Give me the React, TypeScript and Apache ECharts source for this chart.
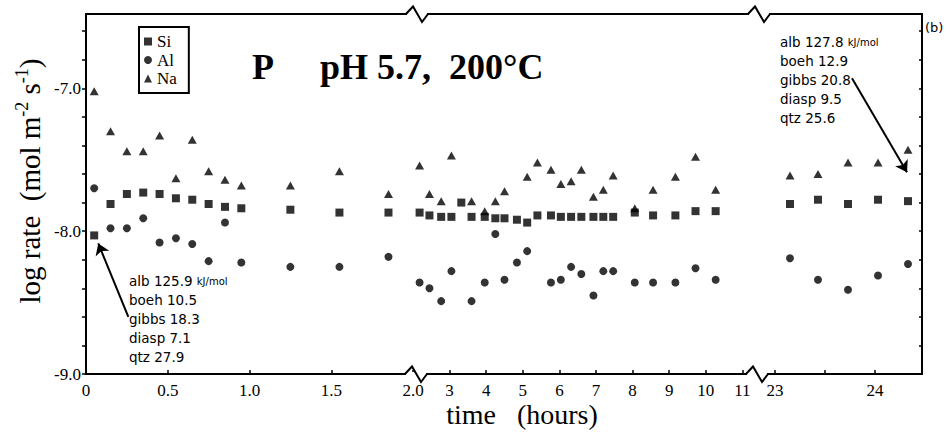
import React, { useEffect, useRef } from "react";
import * as echarts from "echarts";

// ---- data (time in hours, log rate in mol m-2 s-1) ----
const SEG1_T = [0.05, 0.15, 0.25, 0.35, 0.45, 0.55, 0.65, 0.75, 0.85, 0.95, 1.25, 1.55, 1.85];
const SEG1_SI = [-8.03, -7.81, -7.74, -7.73, -7.74, -7.77, -7.78, -7.81, -7.83, -7.84, -7.85, -7.87, -7.87];
const SEG1_AL = [-7.7, -7.98, -7.98, -7.91, -8.08, -8.05, -8.09, -8.21, -7.94, -8.22, -8.25, -8.25, -8.18];
const SEG1_NA = [-7.02, -7.3, -7.44, -7.44, -7.33, -7.63, -7.36, -7.58, -7.64, -7.68, -7.68, -7.58, -7.74];

const SEG2_T = [2.18, 2.45, 2.77, 3.05, 3.32, 3.6, 3.96, 4.25, 4.5, 4.84, 5.12, 5.4, 5.77, 6.04, 6.32, 6.6, 6.93, 7.2, 7.47, 8.06, 8.56, 9.17, 9.72, 10.27];
const SEG2_SI = [-7.87, -7.89, -7.9, -7.9, -7.8, -7.9, -7.9, -7.91, -7.91, -7.92, -7.94, -7.89, -7.89, -7.9, -7.9, -7.9, -7.9, -7.9, -7.9, -7.87, -7.89, -7.89, -7.86, -7.86];
const SEG2_AL = [-8.36, -8.4, -8.49, -8.28, null, -8.49, -8.36, -8.02, -8.34, -8.22, -8.14, null, -8.36, -8.34, -8.25, -8.3, -8.45, -8.28, -8.28, -8.36, -8.36, -8.36, -8.26, -8.34];
const SEG2_NA = [-7.54, -7.74, -7.79, -7.47, null, -7.79, -7.86, -7.79, -7.72, null, -7.62, -7.52, -7.57, -7.67, -7.65, -7.57, -7.76, -7.71, -7.61, -7.84, -7.71, -7.62, -7.48, -7.71];

const SEG3_T = [23.15, 23.43, 23.73, 24.03, 24.33];
const SEG3_SI = [-7.81, -7.78, -7.81, -7.78, -7.79];
const SEG3_AL = [-8.19, -8.34, -8.41, -8.31, -8.23];
const SEG3_NA = [-7.61, -7.6, -7.52, -7.52, -7.43];

// ---- axes ----
const Y_MIN = -9.0;
const Y_MAX = -6.48;
const Y_TICKS = [-9.0, -8.8, -8.6, -8.4, -8.2, -8.0, -7.8, -7.6, -7.4, -7.2, -7.0, -6.8, -6.6];
const Y_LABELS = [-9.0, -8.0, -7.0];

const X_RANGES = [
  [0, 2.0],
  [2, 11.4],
  [22.82, 24.47],
];
const X_LABELS = [
  [0, 0.5, 1.0, 1.5, 2.0],
  [3, 4, 5, 6, 7, 8, 9, 10, 11],
  [23, 24],
];
const X_TICKS = [
  [0, 0.5, 1.0, 1.5, 2.0],
  [3, 4, 5, 6, 7, 8, 9, 10, 11],
  [23, 23.5, 24],
];

// arrows (data coordinates): start, end (tip)
const ARROW_LEFT = [[0.259, -8.6], [0.075, -8.086]];
const ARROW_RIGHT = [[23.77, -6.93], [24.32, -7.587]];

const NOTE_LEFT = ["alb 125.9", "boeh 10.5", "gibbs 18.3", "diasp 7.1", "qtz 27.9"];
const NOTE_RIGHT = ["alb 127.8", "boeh 12.9", "gibbs 20.8", "diasp 9.5", "qtz 25.6"];

// ---- layout ----
const W = 951;
const H = 444;
const PLOT_TOP = 14;
const PLOT_BOTTOM = 374;
const X_EDGES = [86, 413, 757, 922];

const SERIF = '"Liberation Serif", "Times New Roman", serif';
const SANS = '"DejaVu Sans", "Noto Sans", sans-serif';
const NB = "\u00a0";

function seriesFor(name: string, symbol: string, size: any, seg: number, times: number[], vals: (number | null)[], markLine?: any) {
  const data = times
    .map((t, k) => (vals[k] == null ? null : [t, vals[k]]))
    .filter((d) => d !== null);
  const s: any = {
    type: "scatter",
    name,
    xAxisIndex: seg,
    yAxisIndex: seg,
    symbol,
    symbolSize: size,
    itemStyle: { color: "#000" },
    data,
    silent: true,
    emphasis: { disabled: true },
  };
  if (markLine) s.markLine = markLine;
  return s;
}

function arrowLine(a: number[][]) {
  return {
    silent: true,
    symbol: ["none", "arrow"],
    symbolSize: 11,
    itemStyle: { color: "#000" },
    lineStyle: { color: "#000", width: 2, type: "solid" },
    label: { show: false },
    data: [[{ coord: a[0] }, { coord: a[1] }]],
  };
}

function zig(cx: number, y: number): any[] {
  return [
    { type: "rect", z: 50, shape: { x: cx - 10, y: y - 2, width: 20, height: 4 }, style: { fill: "#fff" } },
    {
      type: "polyline",
      z: 51,
      shape: { points: [[cx - 11, y], [cx - 4, y - 7.5], [cx + 5, y + 8], [cx + 11, y]] },
      style: { stroke: "#000", lineWidth: 2, fill: "none" },
    },
  ];
}

export default function App() {
  const ref = useRef<HTMLDivElement>(null);
  useEffect(() => {
    if (!ref.current) return;
    const chart = echarts.init(ref.current, null, { renderer: "svg" });
    const axisLine = { show: true, onZero: false, lineStyle: { color: "#000", width: 2 } };
    const grid = [0, 1, 2].map((i) => ({
      left: X_EDGES[i],
      width: X_EDGES[i + 1] - X_EDGES[i],
      top: PLOT_TOP,
      height: PLOT_BOTTOM - PLOT_TOP,
      containLabel: false,
      outerBoundsMode: "none",
    }));
    const fmts = [
      (v: number) => (v === 0 ? "0" : v.toFixed(1)),
      (v: number) => String(v),
      (v: number) => String(v),
    ];
    const xBottom = [0, 1, 2].map((i) => ({
      type: "value",
      gridIndex: i,
      position: "bottom",
      min: X_RANGES[i][0],
      max: X_RANGES[i][1],
      axisLine,
      axisTick: { show: true, inside: true, length: 4, customValues: X_TICKS[i], lineStyle: { color: "#000", width: 1.5 } },
      axisLabel: {
        show: true,
        customValues: X_LABELS[i],
        formatter: fmts[i],
        color: "#000",
        fontFamily: SERIF,
        fontSize: 17,
        margin: 8,
      },
      splitLine: { show: false },
    }));
    const xTop = [0, 1, 2].map((i) => ({
      type: "value",
      gridIndex: i,
      position: "top",
      min: X_RANGES[i][0],
      max: X_RANGES[i][1],
      axisLine,
      axisTick: { show: false },
      axisLabel: { show: false },
      splitLine: { show: false },
    }));
    const yAxis = [
      {
        type: "value",
        gridIndex: 0,
        position: "left",
        min: Y_MIN,
        max: Y_MAX,
        axisLine,
        axisTick: { show: true, inside: false, length: 4, customValues: Y_TICKS, lineStyle: { color: "#000", width: 1.5 } },
        axisLabel: {
          show: true,
          customValues: Y_LABELS,
          formatter: (v: number) => v.toFixed(1),
          color: "#000",
          fontFamily: SERIF,
          fontSize: 17,
          margin: 5,
        },
        splitLine: { show: false },
      },
      { type: "value", gridIndex: 1, min: Y_MIN, max: Y_MAX, show: false },
      {
        type: "value",
        gridIndex: 2,
        position: "right",
        min: Y_MIN,
        max: Y_MAX,
        axisLine,
        axisTick: { show: true, inside: true, length: 3, customValues: Y_TICKS, lineStyle: { color: "#000", width: 1.5 } },
        axisLabel: { show: false },
        splitLine: { show: false },
      },
    ];

    const SQ = 8;
    const CI = 8;
    const TR = [9, 8];
    const series = [
      seriesFor("Si", "rect", SQ, 0, SEG1_T, SEG1_SI, arrowLine(ARROW_LEFT)),
      seriesFor("Al", "circle", CI, 0, SEG1_T, SEG1_AL),
      seriesFor("Na", "triangle", TR, 0, SEG1_T, SEG1_NA),
      seriesFor("Si", "rect", SQ, 1, SEG2_T, SEG2_SI),
      seriesFor("Al", "circle", CI, 1, SEG2_T, SEG2_AL),
      seriesFor("Na", "triangle", TR, 1, SEG2_T, SEG2_NA),
      seriesFor("Si", "rect", SQ, 2, SEG3_T, SEG3_SI, arrowLine(ARROW_RIGHT)),
      seriesFor("Al", "circle", CI, 2, SEG3_T, SEG3_AL),
      seriesFor("Na", "triangle", TR, 2, SEG3_T, SEG3_NA),
    ];

    const noteStyle = { fontFamily: SANS, fontSize: 13.5, fill: "#000" };
    const noteTexts = (lines: string[], x: number, y0: number) =>
      lines.map((t, i) => ({
        type: "text",
        x,
        y: y0 + i * 19,
        z: 60,
        style:
          i === 0
            ? {
                text: `{a|${t.replace(/ /g, NB)}${NB}}{b|kJ/mol}`,
                rich: {
                  a: { fontFamily: SANS, fontSize: 13.5, fill: "#000" },
                  b: { fontFamily: SANS, fontSize: 10, fill: "#000" },
                },
                verticalAlign: "middle",
              }
            : { text: t.replace(/ /g, NB), ...noteStyle, verticalAlign: "middle" },
      }));

    const graphic: any[] = [
      ...zig(417, PLOT_TOP),
      ...zig(416, PLOT_BOTTOM),
      ...zig(759, PLOT_TOP),
      ...zig(757, PLOT_BOTTOM),
      {
        type: "text",
        x: 252,
        y: 67,
        z: 60,
        style: { text: "P", fontFamily: SERIF, fontWeight: "bold", fontSize: 36, fill: "#000", verticalAlign: "middle" },
      },
      {
        type: "text",
        x: 320,
        y: 67,
        z: 60,
        style: {
          text: `pH${NB}5.7,${NB}${NB}200°C`,
          fontFamily: SERIF,
          fontWeight: "bold",
          fontSize: 36,
          fill: "#000",
          verticalAlign: "middle",
        },
      },
      ...noteTexts(NOTE_LEFT, 129, 281),
      ...noteTexts(NOTE_RIGHT, 780, 42),
      {
        type: "text",
        x: 925,
        y: 27,
        z: 60,
        style: { text: "(b)", fontFamily: SANS, fontSize: 13, fill: "#000", verticalAlign: "middle" },
      },
      {
        type: "text",
        x: 522,
        y: 414,
        z: 60,
        style: {
          text: `time${NB}${NB}${NB}(hours)`,
          fontFamily: SERIF,
          fontSize: 28,
          fill: "#000",
          align: "center",
          verticalAlign: "middle",
        },
      },
      {
        type: "text",
        x: 30,
        y: 181,
        rotation: Math.PI / 2,
        z: 60,
        style: {
          text: `{a|log${NB}rate${NB}${NB}(mol${NB}m}{s|-2}{a|${NB}s}{s|-1}{a|)}`,
          rich: {
            a: { fontFamily: SERIF, fontSize: 29, lineHeight: 34, fill: "#000", verticalAlign: "middle" },
            s: { fontFamily: SERIF, fontSize: 18, lineHeight: 18, fill: "#000", verticalAlign: "top" },
          },
          align: "center",
          verticalAlign: "middle",
        },
      },
    ];

    chart.setOption({
      animation: false,
      backgroundColor: "#fff",
      grid,
      xAxis: [...xBottom, ...xTop],
      yAxis,
      legend: {
        data: [
          { name: "Si", icon: "rect" },
          { name: "Al", icon: "circle" },
          { name: "Na", icon: "triangle" },
        ],
        orient: "vertical",
        left: 139,
        top: 27,
        itemWidth: 8,
        itemHeight: 8,
        itemGap: 1.5,
        padding: [6, 12, 6, 5],
        borderColor: "#000",
        borderWidth: 2,
        selectedMode: false,
        textStyle: { fontFamily: SERIF, fontSize: 17, color: "#000" },
      },
      series,
      graphic,
    });
    return () => chart.dispose();
  }, []);
  return (
    <div
      ref={ref}
      style={{ position: "absolute", left: 0, top: 0, width: W, height: H, background: "#fff" }}
    />
  );
}
